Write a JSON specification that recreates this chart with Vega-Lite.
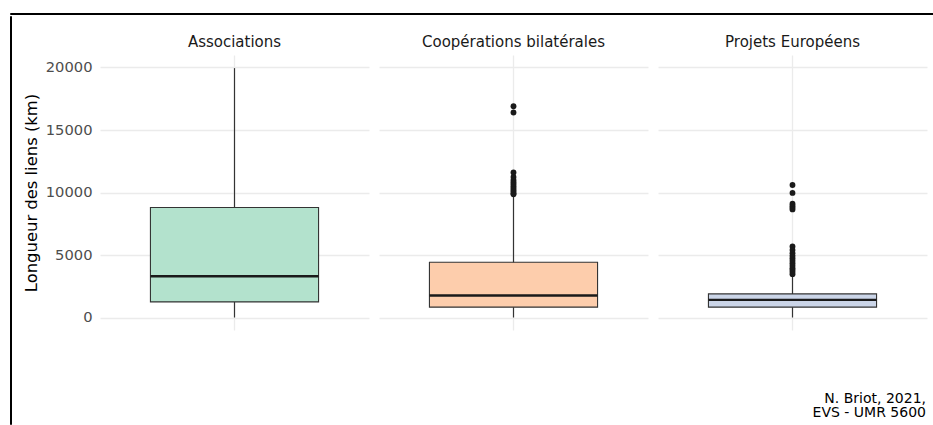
{
  "$schema": "https://vega.github.io/schema/vega-lite/v6.json",
  "background": "white",
  "padding": {"left": 9, "top": 12, "right": 0, "bottom": 0},
  "config": {"font": "DejaVu Sans", "view": {"stroke": null}},
  "spacing": 0,
  "vconcat": [
    {
      "width": 924, "height": 1,
      "view": {"stroke": "#000000", "strokeWidth": 1},
      "data": {"values": []},
      "mark": "rule",
      "encoding": {}
    },
    {
      "spacing": 11,
      "hconcat": [
        {
          "width": 1, "height": 408,
          "view": {"stroke": "#000000", "strokeWidth": 1},
          "data": {"values": []},
          "mark": "rule",
          "encoding": {}
        },
        {
          "spacing": 18,
          "vconcat": [
            {"width": 1, "height": 1, "data": {"values": []}, "mark": "rule", "encoding": {}},
            {
              "data": {"values": [
                {"groupe": "Associations", "lower": 0, "q1": 1250, "median": 3300, "q3": 8800, "upper": 19950},
                {"groupe": "Coopérations bilatérales", "lower": 0, "q1": 830, "median": 1760, "q3": 4420, "upper": 9650},
                {"groupe": "Projets Européens", "lower": 0, "q1": 830, "median": 1410, "q3": 1890, "upper": 3300},
                {"groupe": "Coopérations bilatérales", "outlier": 16900},
                {"groupe": "Coopérations bilatérales", "outlier": 16400},
                {"groupe": "Coopérations bilatérales", "outlier": 11600},
                {"groupe": "Coopérations bilatérales", "outlier": 11250},
                {"groupe": "Coopérations bilatérales", "outlier": 11000},
                {"groupe": "Coopérations bilatérales", "outlier": 10850},
                {"groupe": "Coopérations bilatérales", "outlier": 10700},
                {"groupe": "Coopérations bilatérales", "outlier": 10550},
                {"groupe": "Coopérations bilatérales", "outlier": 10400},
                {"groupe": "Coopérations bilatérales", "outlier": 10250},
                {"groupe": "Coopérations bilatérales", "outlier": 10100},
                {"groupe": "Coopérations bilatérales", "outlier": 9950},
                {"groupe": "Coopérations bilatérales", "outlier": 9860},
                {"groupe": "Projets Européens", "outlier": 10600},
                {"groupe": "Projets Européens", "outlier": 9970},
                {"groupe": "Projets Européens", "outlier": 9100},
                {"groupe": "Projets Européens", "outlier": 8950},
                {"groupe": "Projets Européens", "outlier": 8800},
                {"groupe": "Projets Européens", "outlier": 8650},
                {"groupe": "Projets Européens", "outlier": 5680},
                {"groupe": "Projets Européens", "outlier": 5400},
                {"groupe": "Projets Européens", "outlier": 5150},
                {"groupe": "Projets Européens", "outlier": 4950},
                {"groupe": "Projets Européens", "outlier": 4750},
                {"groupe": "Projets Européens", "outlier": 4550},
                {"groupe": "Projets Européens", "outlier": 4350},
                {"groupe": "Projets Européens", "outlier": 4150},
                {"groupe": "Projets Européens", "outlier": 3950},
                {"groupe": "Projets Européens", "outlier": 3800},
                {"groupe": "Projets Européens", "outlier": 3650},
                {"groupe": "Projets Européens", "outlier": 3470}
              ]},
              "facet": {
                "column": {
                  "field": "groupe", "type": "nominal", "title": null,
                  "header": {"labelFontSize": 15, "labelColor": "#1a1a1a", "labelPadding": 5}
                }
              },
              "spacing": 10,
              "resolve": {"scale": {"x": "independent"}},
              "title": {
                "text": ["N. Briot, 2021,", "EVS - UMR 5600"],
                "orient": "bottom", "anchor": "end", "frame": "bounds",
                "fontSize": 14, "fontWeight": "normal", "color": "#000000",
                "lineHeight": 14.2, "offset": 62, "dx": -1
              },
              "spec": {
                "width": 269,
                "height": 275,
                "encoding": {
                  "x": {
                    "field": "groupe", "type": "nominal",
                    "scale": {"paddingInner": 0, "paddingOuter": 0.3},
                    "axis": {"title": null, "labels": false, "ticks": false, "domain": false, "grid": true, "gridColor": "#ebebeb", "gridWidth": 1.3, "bandPosition": 0.5}
                  }
                },
                "layer": [
                  {
                    "transform": [{"filter": "isValid(datum.q1)"}],
                    "mark": {"type": "rule", "color": "#333333", "strokeWidth": 1.2},
                    "encoding": {
                      "y": {
                        "field": "lower", "type": "quantitative", "title": "Longueur des liens (km)",
                        "scale": {"domain": [-1000, 21000], "nice": false, "zero": false},
                        "axis": {
                          "values": [0, 2500, 5000, 7500, 10000, 12500, 15000, 17500, 20000],
                          "format": "d",
                          "labelExpr": "datum.value % 5000 === 0 ? datum.label : ''",
                          "labelOverlap": false,
                          "domain": false, "ticks": false,
                          "labelFontSize": 14.7, "labelColor": "#4d4d4d", "labelPadding": 8,
                          "titleFontSize": 16.4, "titleFontWeight": "normal", "titleColor": "#000000", "titlePadding": 6,
                          "gridColor": "#ebebeb",
                          "gridWidth": {"condition": {"test": "datum.value % 5000 === 0", "value": 1.3}, "value": 0.7}
                        }
                      },
                      "y2": {"field": "upper"}
                    }
                  },
                  {
                    "transform": [{"filter": "isValid(datum.q1)"}],
                    "mark": {"type": "bar", "stroke": "#333333", "strokeWidth": 1.1, "opacity": 1},
                    "encoding": {
                      "y": {"field": "q1", "type": "quantitative", "title": "Longueur des liens (km)"},
                      "y2": {"field": "q3"},
                      "fill": {
                        "field": "groupe", "type": "nominal", "legend": null,
                        "scale": {"domain": ["Associations", "Coopérations bilatérales", "Projets Européens"], "range": ["#B3E2CD", "#FDCDAC", "#CBD5E8"]}
                      }
                    }
                  },
                  {
                    "transform": [{"filter": "isValid(datum.q1)"}],
                    "mark": {"type": "bar", "fillOpacity": 0, "stroke": "#1a1a1a", "strokeWidth": 2.4},
                    "encoding": {
                      "y": {"field": "median", "type": "quantitative", "title": "Longueur des liens (km)"},
                      "y2": {"field": "median"}
                    }
                  },
                  {
                    "transform": [{"filter": "isValid(datum.outlier)"}],
                    "mark": {"type": "point", "filled": true, "size": 34, "color": "#1a1a1a", "opacity": 1},
                    "encoding": {
                      "y": {"field": "outlier", "type": "quantitative", "title": "Longueur des liens (km)"}
                    }
                  }
                ]
              }
            }
          ]
        }
      ]
    }
  ]
}
